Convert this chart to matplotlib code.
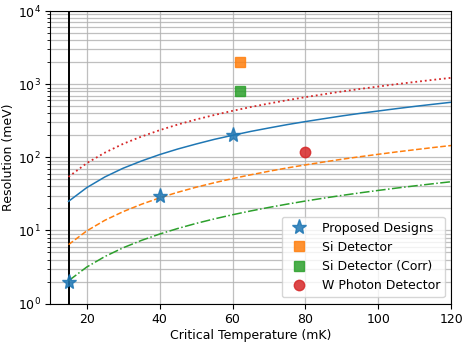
import matplotlib
matplotlib.use("Agg")
import matplotlib.pyplot as plt

plt.rcParams['font.size'] = 9

# Curve samples
temps = [15, 20, 25, 30, 35, 40, 45, 50, 55, 60, 65, 70, 75, 80, 85, 90, 95, 100, 105, 110, 115, 120]
blue_curve = [25, 38.5, 54, 71, 89, 109, 130, 152, 176, 200, 226, 252, 280, 308, 337, 368, 399, 430, 463, 497, 531, 566]
orange_curve = [6.4, 9.86, 13.8, 18.1, 22.8, 27.9, 33.3, 39.0, 44.9, 51.2, 57.7, 64.5, 71.6, 78.8, 86.3, 94.1, 102, 110, 118.5, 127, 136, 145]
green_curve = [2.05, 3.16, 4.41, 5.80, 7.31, 8.93, 10.65, 12.48, 14.39, 16.4, 18.49, 20.66, 22.92, 25.26, 27.65, 30.14, 32.68, 35.28, 37.97, 40.71, 43.52, 46.39]
red_curve = [54, 83.2, 116, 153, 192, 235, 281, 329, 379, 432, 487, 544, 604, 665, 728, 794, 861, 929, 1000, 1072, 1146, 1222]

# Points
proposed_t = [15, 40, 60]
proposed_r = [2, 30, 200]
si_t = [62]
si_r = [2000]
si_corr_t = [62]
si_corr_r = [800]
w_t = [80]
w_r = [120]

vline_t = 15

fig, ax = plt.subplots(figsize=(4.7, 3.45), dpi=100)
fig.subplots_adjust(left=0.107, right=0.96, top=0.968, bottom=0.12)

ax.grid(True, which='both', axis='y', color='#b0b0b0', lw=0.9, alpha=0.8)
ax.grid(True, which='major', axis='x', color='#b0b0b0', lw=0.9, alpha=0.8)
ax.set_axisbelow(True)

ax.axvline(vline_t, color='black', lw=1.4)
ax.plot(temps, blue_curve, '-', color='tab:blue', lw=1.1)
ax.plot(temps, orange_curve, '--', color='tab:orange', lw=1.1)
ax.plot(temps, green_curve, '-.', color='tab:green', lw=1.1)
ax.plot(temps, red_curve, ':', color='tab:red', lw=1.3)

ax.plot(proposed_t, proposed_r, '*', color='tab:blue', ms=11, alpha=0.85, ls='none', label='Proposed Designs')
ax.plot(si_t, si_r, 's', color='tab:orange', ms=7.5, alpha=0.85, ls='none', label='Si Detector')
ax.plot(si_corr_t, si_corr_r, 's', color='tab:green', ms=7.5, alpha=0.85, ls='none', label='Si Detector (Corr)')
ax.plot(w_t, w_r, 'o', color='tab:red', ms=7.5, alpha=0.85, ls='none', label='W Photon Detector')

ax.set_yscale('log')
ax.set_ylim(1, 1e4)
ax.set_xlim(10, 120)
ax.set_xticks([20, 40, 60, 80, 100, 120])
ax.set_xlabel('Critical Temperature (mK)', labelpad=2)
ax.set_ylabel('Resolution (meV)', labelpad=2)
ax.legend(loc='lower right', fontsize=9)

fig.savefig('out.png', dpi=100)
